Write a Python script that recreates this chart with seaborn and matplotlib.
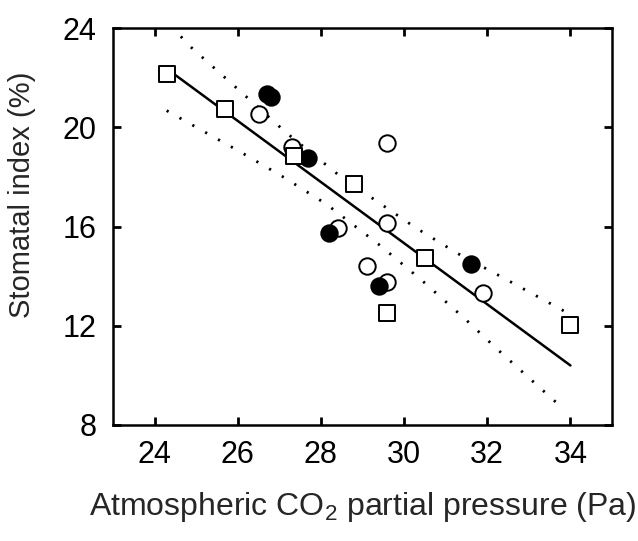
import matplotlib
matplotlib.use('Agg')
import matplotlib.pyplot as plt
import seaborn as sns

# open circles
open_x = [26.5, 27.3, 29.6, 28.4, 29.6, 29.1, 29.6, 31.9]
open_y = [20.55, 19.2, 19.35, 15.95, 16.15, 14.4, 13.75, 13.3]

# filled circles
filled_x = [26.7, 26.8, 27.7, 28.2, 29.4, 31.6]
filled_y = [21.35, 21.2, 18.75, 15.75, 13.6, 14.5]

# open squares
square_x = [24.3, 25.7, 27.35, 28.8, 30.5, 29.6, 34.0]
square_y = [22.15, 20.75, 18.85, 17.7, 14.75, 12.5, 12.05]

# regression line and its confidence band
fit_x = [24.3, 34.0]
fit_y = [22.35, 10.4]
upper_x = [24.63, 24.88, 25.92, 27.18, 28.46, 30.26, 31.28, 32.31, 33.85]
upper_y = [23.66, 23.22, 21.66, 19.76, 18.03, 15.97, 14.92, 14.0, 12.59]
lower_x = [24.29, 26.10, 27.12, 28.14, 29.42, 30.44, 31.47, 32.23, 33.79]
lower_y = [20.67, 18.97, 17.97, 16.89, 15.24, 13.81, 12.27, 11.07, 8.71]


def main():
    sns.set_theme(style='ticks')
    plt.rcParams['font.family'] = ['Liberation Sans', 'DejaVu Sans']
    plt.rcParams['mathtext.fontset'] = 'custom'
    plt.rcParams['mathtext.rm'] = 'Liberation Sans'

    fig = plt.figure(figsize=(6.38, 5.41), dpi=100)
    ax = fig.add_axes([113 / 638, 1 - 425 / 541, 499 / 638, 397 / 541])

    sns.lineplot(x=fit_x, y=fit_y, ax=ax, color='black', lw=1.8, sort=False, estimator=None)
    for bx, by in [(upper_x, upper_y), (lower_x, lower_y)]:
        sns.lineplot(x=bx, y=by, ax=ax, color='black', lw=2, sort=False,
                     estimator=None, linestyle=(0, (0.8, 4.5)))

    sns.scatterplot(x=open_x, y=open_y, ax=ax, marker='o', s=140, color='white',
                    edgecolor='black', linewidth=1.4, zorder=3)
    sns.scatterplot(x=filled_x, y=filled_y, ax=ax, marker='o', s=140, color='black',
                    edgecolor='black', linewidth=1.4, zorder=4)
    sns.scatterplot(x=square_x, y=square_y, ax=ax, marker='s', s=120, color='white',
                    edgecolor='black', linewidth=1.4, zorder=5)

    ax.set_xlim(23, 35)
    ax.set_ylim(8, 24)
    ax.set_xticks([24, 26, 28, 30, 32, 34])
    ax.set_yticks([8, 12, 16, 20, 24])
    ax.tick_params(direction='in', length=6, width=2, labelsize=22,
                   top=True, right=True, colors='black')
    ax.tick_params(axis='x', pad=11)
    ax.tick_params(axis='y', pad=12)
    for sp in ax.spines.values():
        sp.set_linewidth(1.8)
        sp.set_color('black')

    ax.set_xlabel('Atmospheric CO$_2$ partial pressure (Pa)', fontsize=23, va='center')
    ax.xaxis.set_label_coords(0.5, -0.207)
    ax.set_ylabel('Stomatal index (%)', fontsize=21, va='center')
    ax.yaxis.set_label_coords(-0.182, 0.579)

    fig.savefig('out.png', dpi=100)


if __name__ == '__main__':
    main()
